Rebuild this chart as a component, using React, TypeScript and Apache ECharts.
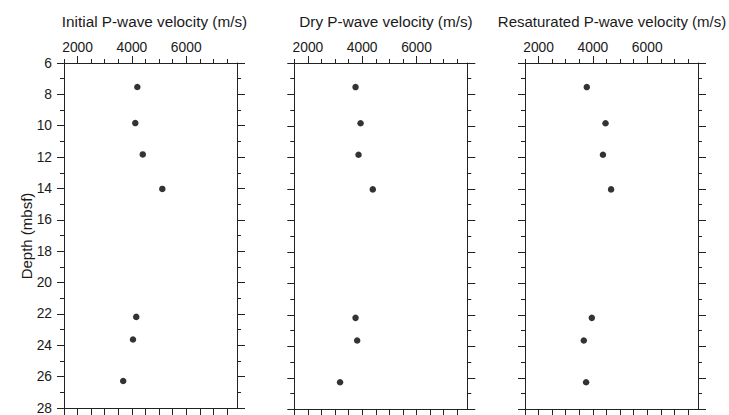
import React, { useEffect, useRef } from "react";
import * as echarts from "echarts";

const depths = [7.53, 9.83, 11.83, 14.03, 22.19, 23.63, 26.28];
const initialVelocity = [4200, 4125, 4400, 5120, 4160, 4040, 3680];
const dryVelocity = [3755, 3940, 3865, 4390, 3755, 3815, 3185];
const resaturatedVelocity = [3775, 4465, 4370, 4670, 3960, 3665, 3750];

const panelTitles = [
  "Initial P-wave velocity (m/s)",
  "Dry P-wave velocity (m/s)",
  "Resaturated P-wave velocity (m/s)",
];
const majorTicks = [2000, 4000, 6000];
const minorTicks = [1500, 2500, 3000, 3500, 4500, 5000, 5500, 6500, 7000, 7500];
const bottomTicks = [1500, 2000, 2500, 3000, 3500, 4000, 4500, 5000, 5500, 6000, 6500, 7000, 7500];
const xMin = 1500;
const xMax = 7870;
const yMin = 6;
const yMax = 28;
const yName = "Depth (mbsf)";

const FONT = "'Liberation Sans', Arial, Helvetica, sans-serif";
const TEXT = "#1a1a1a";
const LINE = "#222";

export default function App() {
  const ref = useRef<HTMLDivElement>(null);
  useEffect(() => {
    if (!ref.current) return;
    const chart = echarts.init(ref.current, null, { renderer: "svg" });
    const seriesData = [initialVelocity, dryVelocity, resaturatedVelocity];
    const lefts = [64, 294.3, 525];
    const titleCenters = [149.5, 381, 607];
    const titleSizes = [15.3, 15.3, 15];
    const width = 173;
    const top = 63;
    const height = 346.3;

    const grids: any[] = [];
    const xAxes: any[] = [];
    const yAxes: any[] = [];
    const series: any[] = [];
    const titles: any[] = [];

    for (let i = 0; i < 3; i++) {
      grids.push({ left: lefts[i], top, width, height, containLabel: false });
      titles.push({
        text: panelTitles[i],
        left: titleCenters[i],
        top: 9,
        textAlign: "center",
        textStyle: { fontFamily: FONT, fontSize: titleSizes[i], fontWeight: "normal", color: TEXT },
      });
      const base = {
        type: "value",
        gridIndex: i,
        min: xMin,
        max: xMax,
        splitLine: { show: false },
        axisLine: { show: true, lineStyle: { color: LINE, width: 1 } },
      };
      xAxes.push({
        ...base,
        position: "top",
        axisTick: { show: true, inside: false, length: 7, customValues: majorTicks, lineStyle: { color: LINE } },
        axisLabel: {
          show: true,
          customValues: majorTicks,
          formatter: (v: number) => String(v),
          margin: 9,
          fontFamily: FONT,
          fontSize: 13.8,
          color: TEXT,
        },
      });
      xAxes.push({
        ...base,
        position: "top",
        axisTick: { show: true, inside: false, length: 4, customValues: minorTicks, lineStyle: { color: LINE } },
        axisLabel: { show: false },
      });
      xAxes.push({
        ...base,
        position: "bottom",
        axisTick: { show: true, inside: false, length: 7, customValues: bottomTicks, lineStyle: { color: LINE } },
        axisLabel: { show: false },
      });
      const ybase = {
        type: "value",
        gridIndex: i,
        min: yMin,
        max: yMax,
        interval: 2,
        inverse: true,
        splitLine: { show: false },
        axisLine: { show: true, lineStyle: { color: LINE, width: 1 } },
        axisTick: { show: true, inside: false, length: 7, lineStyle: { color: LINE } },
        minorTick: { show: true, splitNumber: 2, length: 4, lineStyle: { color: LINE } },
        minorSplitLine: { show: false },
      };
      yAxes.push({
        ...ybase,
        position: "left",
        axisLabel: {
          show: i === 0,
          margin: 12,
          formatter: (v: number) => String(v),
          fontFamily: FONT,
          fontSize: 13.8,
          color: TEXT,
        },
      });
      yAxes.push({
        ...ybase,
        position: "right",
        axisTick: { show: true, inside: false, length: 8, lineStyle: { color: LINE } },
        axisLabel: { show: false },
      });
      series.push({
        type: "scatter",
        xAxisIndex: i * 3,
        yAxisIndex: i * 2,
        symbol: "circle",
        symbolSize: 6.5,
        itemStyle: { color: "#000" },
        data: depths.map((d, k) => [seriesData[i][k], d]),
      });
    }

    chart.setOption({
      animation: false,
      title: titles,
      grid: grids,
      xAxis: xAxes,
      yAxis: yAxes,
      series,
      graphic: [
        {
          type: "text",
          x: 26,
          y: 236,
          rotation: Math.PI / 2,
          style: {
            text: yName,
            align: "center",
            verticalAlign: "middle",
            fontFamily: FONT,
            fontSize: 15,
            fill: TEXT,
          },
        },
      ],
    });
    return () => chart.dispose();
  }, []);
  return <div ref={ref} style={{ width: 729, height: 415, position: "absolute", left: 0, top: 0 }} />;
}
